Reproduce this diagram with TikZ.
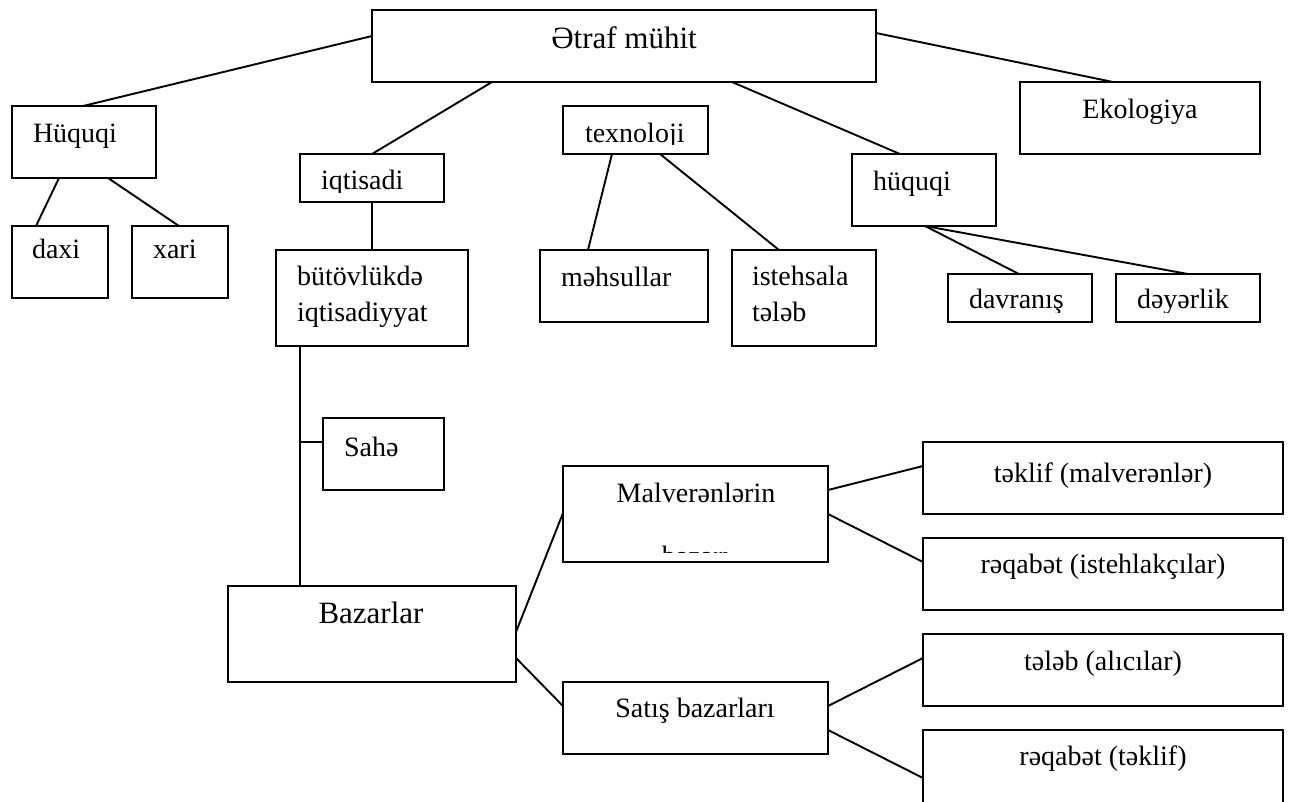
\documentclass[tikz,border=0pt]{standalone}
\usepackage{fontspec}
\setmainfont{Liberation Serif}
\usetikzlibrary{calc}
\newcommand\mkbox[5]{%
  \pgfmathsetmacro\mybw{#4-#2}\pgfmathsetmacro\mybh{#5-#3}%
  \node[box,minimum width=\mybw pt,minimum height=\mybh pt] (#1) at ({(#2+#4)/2},{(#3+#5)/2}) {};}
\begin{document}
\begin{tikzpicture}[x=1pt,y=-1pt,
  box/.style={draw,line width=2pt,rectangle,inner sep=0pt,outer sep=0pt,fill=white},
  txt/.style={inner sep=0pt,outer sep=0pt,font=\fontsize{28}{34}\selectfont},
  bigtxt/.style={txt,font=\fontsize{31}{37}\selectfont},
  link/.style={line width=1.9pt}]
\useasboundingbox[fill=white] (0,0) rectangle (1295,801);
\coordinate (j) at (300,442);
% boxes
\mkbox{etraf}{372}{10}{876}{82}
\mkbox{huquqi}{12}{106}{156}{178}
\mkbox{daxi}{12}{226}{108}{298}
\mkbox{xari}{132}{226}{228}{298}
\mkbox{iqtisadi}{300}{154}{444}{202}
\mkbox{butov}{276}{250}{468}{346}
\mkbox{texno}{563}{106}{708}{154}
\mkbox{mehsul}{540}{250}{708}{322}
\mkbox{isteh}{732}{250}{876}{346}
\mkbox{huquqib}{852}{154}{996}{226}
\mkbox{ekol}{1020}{82}{1260}{154}
\mkbox{davr}{948}{274}{1092}{322}
\mkbox{deyer}{1116}{274}{1260}{322}
\mkbox{sahe}{323}{418}{444}{490}
\mkbox{bazar}{228}{586}{516}{682}
\mkbox{malver}{563}{466}{828}{562}
\mkbox{satis}{563}{682}{828}{754}
\mkbox{teklif}{923}{442}{1283}{514}
\mkbox{reqa}{923}{538}{1283}{610}
\mkbox{teleb}{923}{634}{1283}{706}
\mkbox{reqb}{923}{730}{1283}{808}
% connectors
\draw[link] ($(etraf.north west)+(0,26)$) -- ($(huquqi.north west)+(71,0)$);
\draw[link] ($(etraf.south west)+(120,0)$) -- (iqtisadi.north);
\draw[link] ($(etraf.south west)+(360,0)$) -- ($(huquqib.north west)+(48,0)$);
\draw[link] ($(etraf.north east)+(0,23)$) -- ($(ekol.north west)+(93,0)$);
\draw[link] ($(huquqi.south west)+(47,0)$) -- ($(daxi.north west)+(24,0)$);
\draw[link] ($(huquqi.south west)+(96,0)$) -- ($(xari.north west)+(47,0)$);
\draw[link] (iqtisadi.south) -- (butov.north);
\draw[link] ($(texno.south west)+(49,0)$) -- ($(mehsul.north west)+(48,0)$);
\draw[link] ($(texno.south west)+(97,0)$) -- ($(isteh.north west)+(47,0)$);
\draw[link] ($(huquqib.south west)+(73,0)$) -- ($(davr.north west)+(71,0)$);
\draw[link] ($(huquqib.south west)+(73,0)$) -- ($(deyer.north west)+(72,0)$);
\draw[link] ($(butov.south west)+(24,0)$) -- ($(bazar.north west)+(72,0)$);
\draw[link] (j) -- ($(sahe.north west)+(0,24)$);
\draw[link] ($(bazar.north east)+(0,46)$) -- ($(malver.north west)+(0,47)$);
\draw[link] ($(bazar.north east)+(0,72)$) -- ($(satis.north west)+(0,24)$);
\draw[link] ($(malver.north east)+(0,24)$) -- ($(teklif.north west)+(0,24)$);
\draw[link] ($(malver.north east)+(0,48)$) -- ($(reqa.north west)+(0,24)$);
\draw[link] ($(satis.north east)+(0,24)$) -- ($(teleb.north west)+(0,24)$);
\draw[link] ($(satis.north east)+(0,48)$) -- ($(reqb.north west)+(0,48)$);
% texts
\node[bigtxt,anchor=base] (t-etraf) at (624,48) {Ətraf mühit};
\node[txt,anchor=base west] (t-huquqi) at (33,142) {Hüquqi};
\node[txt,anchor=base west] (t-daxi) at (32,258) {daxi};
\node[txt,anchor=base west] (t-xari) at (153,258) {xari};
\begin{scope}
  \clip (iqtisadi.north west) rectangle ($(iqtisadi.south east)+(0,-10)$);
  \node[txt,anchor=base west] (t-iqt) at (321,189) {iqtisadi};
\end{scope}
\node[txt,anchor=base west] (t-butov1) at (297,285) {bütövlükdə};
\node[txt,anchor=base west] (t-butov2) at (297,321) {iqtisadiyyat};
\begin{scope}
  \clip (texno.north west) rectangle ($(texno.south east)+(0,-10)$);
  \node[txt,anchor=base west] (t-texno) at (585,142) {texnoloji};
\end{scope}
\node[txt,anchor=base west] (t-mehsul) at (561,286) {məhsullar};
\node[txt,anchor=base west] (t-isteh1) at (752,285) {istehsala};
\node[txt,anchor=base west] (t-isteh2) at (752,321) {tələb};
\node[txt,anchor=base west] (t-huquqib) at (873,190) {hüquqi};
\node[txt,anchor=base] (t-ekol) at (1140,118) {Ekologiya};
\begin{scope}
  \clip (davr.north west) rectangle ($(deyer.south east)+(0,-10)$);
  \node[txt,anchor=base west] (t-davr) at (969,308) {davranış};
  \node[txt,anchor=base west] (t-deyer) at (1137,308) {dəyərlik};
\end{scope}
\node[txt,anchor=base west] (t-sahe) at (344,456) {Sahə};
\node[bigtxt,anchor=base] (t-bazar) at (371,623) {Bazarlar};
\begin{scope}
  \clip (malver.north west) rectangle ($(malver.south east)+(0,-10)$);
  \node[txt,anchor=base] (t-malver1) at (696,502) {Malverənlərin};
  \node[txt,anchor=base] (t-malver2) at (696,565) {bazarı};
\end{scope}
\node[txt,anchor=base] (t-satis) at (695,717) {Satış bazarları};
\node[txt,anchor=base] (t-teklif) at (1103,482) {təklif (malverənlər)};
\node[txt,anchor=base] (t-reqa) at (1103,573) {rəqabət (istehlakçılar)};
\node[txt,anchor=base] (t-teleb) at (1103,670) {tələb (alıcılar)};
\node[txt,anchor=base] (t-reqb) at (1103,765) {rəqabət (təklif)};
\end{tikzpicture}
\end{document}
